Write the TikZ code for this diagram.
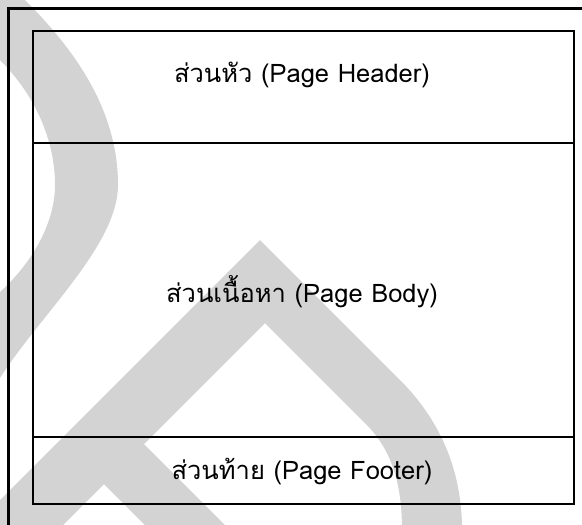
\documentclass[tikz,border=0pt]{standalone}
\usepackage{fontspec}
\newfontfamily\thaifont[Script=Thai]{Loma}
\definecolor{wm}{RGB}{211,211,211}
\begin{document}
\begin{tikzpicture}[x=1pt,y=-1pt,
  parttext/.style={font=\thaifont\fontsize{25.5}{30}\selectfont, inner sep=0pt, anchor=base},
  secbox/.style={draw=black, line width=1.5pt, inner sep=0pt, anchor=north west, minimum width=541pt},
  frameline/.style={draw=black, line width=3pt}]
\useasboundingbox (0,0) rectangle (582,525);
\fill[white] (0,0) rectangle (582,525);
\begin{scope}
\clip (0,0) rectangle (582,525);
% left arc band
\fill[wm, even odd rule]
  (25,0) .. controls (75,50) and (118,110) .. (118,185)
         .. controls (118,245) and (40,315) .. (0,378)
         -- (-60,378) -- (-60,-60) -- (25,-60) -- cycle
  (0,60) .. controls (35,95) and (55,140) .. (55,185)
         .. controls (55,225) and (30,265) .. (0,292)
         -- (-60,292) -- (-60,60) -- cycle;
% chevron / drop shape
\fill[wm]
  (-50,550) -- (260,240) -- (400,380)
  .. controls (440,420) and (462,470) .. (462,530) -- (462,560)
  -- (402,560) -- (402,530)
  .. controls (402,480) and (390,448) .. (365,423)
  -- (265,323) -- (-50,638) -- cycle;
% branch going down-right
\fill[wm] (130,430) -- (284,584) -- (204,584) -- (90,470) -- cycle;
\end{scope}
% outer frame
\draw[frameline] (8,560) -- (8,8) -- (620,8);
% sections
\node[secbox, minimum height=112pt] (hdr) at (32,30) {};
\node[secbox, minimum height=294pt] (bdy) at (32,142) {};
\node[secbox, minimum height=67pt] (ftr) at (32,436) {};
% texts
\node[parttext] (thdr) at (302,82) {ส่วนหัว (Page Header)};
\node[parttext] (tbdy) at (302,302) {ส่วนเนื้อหา (Page Body)};
\node[parttext] (tftr) at (302,479) {ส่วนท้าย (Page Footer)};
\end{tikzpicture}
\end{document}
